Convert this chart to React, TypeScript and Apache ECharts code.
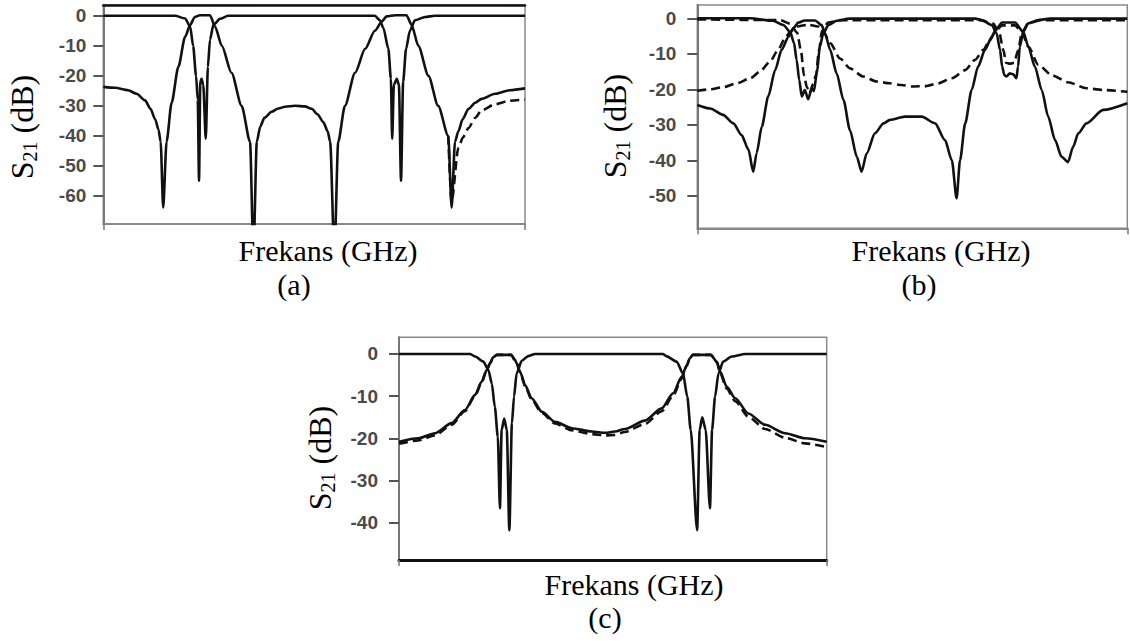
import React, { useEffect, useRef } from "react";
import * as echarts from "echarts";

// ---------- data (x: normalised frequency 0..100, y: S21 in dB) ----------
const A_TICKS = [0, -10, -20, -30, -40, -50, -60];
const B_TICKS = [0, -10, -20, -30, -40, -50];
const C_TICKS = [0, -10, -20, -30, -40];

const A_PASS = [
  [0, -23.7], [2.8, -24], [5.9, -24.8], [7.9, -26], [9.9, -28.2], [11.2, -31], [12.3, -34.5],
  [13.1, -38], [13.6, -42], [14.2, -64], [15.0, -42], [16.2, -29], [17.8, -17], [19.4, -7],
  [20.6, -3], [21.7, -0.4], [22.9, 0.2], [25.3, 0.2], [26.5, -3.6], [28.1, -10], [30.4, -19],
  [32.8, -30], [34.8, -42], [35.6, -80], [36.4, -42], [37.2, -37], [38.2, -34], [39.9, -32],
  [41.5, -30.9], [43.1, -30.3], [45.5, -30], [47.8, -30.2], [49.4, -31], [50.8, -32.8],
  [52.2, -35.5], [53.2, -38.5], [53.8, -42], [54.8, -80], [55.7, -42], [57.3, -30], [59.7, -19],
  [62.1, -11], [64.4, -5], [66.0, -2], [67.2, -0.2], [69.2, 0.2], [71.9, 0.2], [73.1, -3],
  [74.7, -10], [77.1, -20], [79.4, -30], [81.8, -40], [82.6, -64], [83.4, -42], [84.2, -38.5],
  [85.2, -34.5], [86.6, -31], [88.2, -29], [89.7, -27.7], [92.9, -26], [96.4, -24.8], [100, -24.2],
];
const A_PASS_DASHED = [
  [81.8, -40], [82.6, -62], [84.2, -44], [85.3, -40.5], [86.6, -37.4], [88.2, -34], [89.7, -31.5],
  [92.9, -29.5], [96.4, -28.3], [100, -27.9],
];
const A_STOP = [
  [0, 0], [17.0, 0], [19.4, -0.9], [20.6, -3.6], [21.3, -10], [22.0, -20], [22.4, -28],
  [22.7, -55], [23.0, -22], [23.3, -21], [23.7, -23], [24.3, -41], [24.8, -17], [25.3, -8],
  [26.1, -3], [27.7, -1], [29.6, 0], [64.4, 0], [65.6, -1.5], [66.4, -4], [67.6, -11],
  [68.2, -21], [68.5, -41], [68.9, -23], [69.6, -21], [70.1, -23], [70.6, -55], [71.1, -22],
  [71.8, -11], [72.7, -5], [73.9, -1.5], [76.3, -0.4], [78.6, 0], [100, 0],
];

const B_PASS = [
  [0, -24.4], [3.0, -25.4], [6.0, -27.2], [8.4, -29.6], [10.3, -32.9], [11.9, -37], [13.0, -43.2],
  [13.8, -38], [15.0, -30.5], [16.5, -22], [18.1, -14.6], [19.6, -8.9], [21.2, -5.2], [22.3, -2.8],
  [23.5, -1.2], [25.0, -0.6], [27.4, -0.6], [28.9, -1.9], [29.7, -4.2], [30.9, -8.9], [32.4, -15.5],
  [34.0, -23], [35.5, -31.5], [37.1, -39], [38.2, -43.2], [39.4, -38], [41.3, -32.4], [43.3, -29.6],
  [44.8, -28.6], [48.3, -27.7], [52.2, -27.7], [55.3, -29.6], [57.6, -34.3], [59.2, -40],
  [60.3, -50.7], [61.1, -40], [62.3, -29.6], [63.8, -20.2], [65.3, -13.6], [66.9, -8.9],
  [68.5, -5.2], [69.6, -2.8], [70.9, -1.2], [73.9, -1.2], [75.8, -3.8], [77.0, -8], [78.5, -13.6],
  [80.1, -20.2], [81.6, -27.7], [83.2, -34.3], [84.7, -39], [86.2, -40.5], [87.4, -36.2],
  [88.6, -32.4], [90.5, -29.6], [94.4, -25.8], [100, -23.9],
];
const B_PASS_DASHED = [
  [0, -20.4], [3.0, -20], [6.0, -19.4], [9.2, -18.3], [12.3, -16.9], [14.6, -15], [16.9, -12.2],
  [18.8, -8.9], [20.4, -5.6], [21.6, -3.8], [23.2, -2.3], [25.7, -1.8], [28.1, -2.3], [29.3, -3.8],
  [30.9, -7], [33.2, -11.3], [35.5, -14.1], [38.6, -16.4], [41.7, -17.8], [44.8, -18.3],
  [47.5, -18.8], [49.9, -19.2], [53.0, -19.1], [56.0, -18.3], [59.2, -16.9], [62.3, -14.6],
  [64.6, -11.7], [66.5, -8.9], [68.1, -6.1], [69.2, -3.8], [70.9, -2], [73.9, -2], [75.5, -4],
  [77.0, -8], [79.3, -13.1], [82.4, -16], [86.2, -18], [90.5, -19.7], [94.4, -20.2], [100, -20.7],
];
const B_STOP = [
  [0, 0], [12.3, 0], [17.6, -0.7], [20.0, -1.9], [21.6, -3.8], [22.5, -7], [23.1, -11.7],
  [23.7, -17.4], [24.3, -22], [25.0, -20.2], [25.8, -22.8], [26.6, -19.7], [27.1, -20.5],
  [27.8, -15.5], [28.5, -8], [29.3, -4.2], [30.5, -1.9], [32.4, -0.7], [35.5, -0.1], [64.6, -0.1],
  [66.2, -0.5], [68.5, -1.9], [69.6, -4.2], [70.4, -8.9], [70.9, -13.6], [71.4, -16], [71.9, -16.4],
  [72.7, -15.5], [73.5, -15.8], [74.2, -16.9], [74.6, -13.6], [75.0, -8], [75.8, -3.8], [77.0, -1.4],
  [79.3, -0.5], [82.0, -0.1], [100, -0.1],
];
const B_STOP_DASHED = [
  [0, -0.3], [19.2, -0.5], [21.6, -1.5], [23.2, -4], [24.1, -9], [24.8, -16], [25.5, -19.5],
  [26.2, -21], [26.9, -18.5], [27.6, -16], [28.3, -9], [29.0, -3.5], [30.4, -1.2], [33.2, -0.5],
  [65.8, -0.5], [68.8, -1.5], [70.2, -4], [71.2, -9], [71.8, -12.5], [72.7, -12.8], [73.7, -12.5],
  [74.6, -9], [75.5, -4], [76.9, -1.5], [79.7, -0.5], [100, -0.5],
];

const C_PASS = [
  [0, -20.8], [4.5, -20], [8.4, -18.8], [12.3, -16.4], [15.4, -13.3], [17.8, -9.7], [19.3, -6.6],
  [20.5, -3.8], [21.3, -2.2], [22.0, -0.8], [22.9, -0.2], [26.2, -0.2], [27.1, -1.3], [27.5, -2.2],
  [28.3, -4.2], [29.5, -7.4], [31.0, -10.5], [33.4, -13.7], [36.5, -16.1], [40.4, -17.6],
  [45.1, -18.4], [48.2, -18.7], [50.5, -18.4], [52.8, -17.8], [57.5, -15.8], [61.4, -12.9],
  [64.1, -9.3], [66.1, -5.4], [67.3, -2.6], [68.0, -1], [68.7, -0.2], [72.9, -0.2], [74.3, -1.8],
  [75.1, -4.2], [76.6, -7.7], [78.6, -10.5], [81.7, -14.1], [85.6, -16.8], [90.3, -18.8],
  [94.9, -20], [100, -20.8],
];
const C_PASS_DASHED = [
  [0, -21.3], [4.5, -20.5], [8.4, -19.3], [12.3, -16.8], [15.4, -13.6], [17.8, -9.9], [19.3, -6.8],
  [20.5, -3.9], [21.3, -2.2], [22.0, -0.8], [22.9, -0.2], [26.2, -0.2], [27.5, -2.2], [28.3, -4.3],
  [29.5, -7.6], [31.0, -10.8], [33.4, -14], [36.5, -16.5], [40.4, -18.1], [45.1, -19],
  [48.2, -19.3], [50.5, -19.2], [52.8, -18.5], [57.5, -16.6], [61.4, -13.6], [64.1, -9.9],
  [66.1, -5.8], [67.3, -2.8], [68.0, -1], [68.7, -0.2], [72.9, -0.2], [74.3, -1.9], [75.1, -4.5],
  [76.6, -8.2], [78.6, -11.2], [81.7, -14.9], [85.6, -17.8], [90.3, -19.9], [94.9, -21.2],
  [100, -22.1],
];
const C_STOP = [
  [0, 0], [16.6, 0], [17.8, -0.6], [19.7, -1.8], [20.9, -3.8], [21.7, -7], [22.4, -12.5],
  [23.1, -19.6], [23.6, -36.6], [24.0, -18], [24.6, -15.3], [25.2, -18], [25.8, -41.8],
  [26.4, -16.4], [26.9, -10.1], [27.5, -4.6], [28.7, -1.6], [30.2, -0.5], [31.8, 0], [61.7, 0],
  [62.5, -0.5], [64.9, -1.8], [66.4, -4.6], [67.4, -10.1], [68.2, -18], [69.7, -41.8], [70.3, -18],
  [70.9, -15], [71.7, -18], [72.7, -36.6], [73.2, -18], [73.9, -10.1], [74.7, -4.6], [75.8, -1.8],
  [77.8, -0.6], [81.0, 0], [100, 0],
];

const X_TITLE = "Frekans (GHz)";
const PANEL_LABELS = ["(a)", "(b)", "(c)"];

// ---------- styling / layout ----------
const SERIF = "Liberation Serif, Times New Roman, serif";
const SANS = "Liberation Sans, Arial, sans-serif";
const INK = "#111";

const PANELS = [
  {
    grid: { left: 103.3, top: 5, width: 421.7, height: 219 },
    yMin: -69.4, yMax: 3.6, ticks: A_TICKS, margin: 17,
    bottomLine: { color: "#888", width: 2 },
    title: [328, 234.2], subShift: 68, yTitle: [22, 127],
    solid: [A_PASS, A_STOP], dashed: [A_PASS_DASHED],
  },
  {
    grid: { left: 697.3, top: 5, width: 430, height: 223.3 },
    yMin: -59.15, yMax: 3.75, ticks: B_TICKS, margin: 21,
    bottomLine: { color: "#888", width: 2 },
    title: [941, 234.2], subShift: 44, yTitle: [615, 126],
    solid: [B_PASS, B_STOP], dashed: [B_PASS_DASHED, B_STOP_DASHED],
  },
  {
    grid: { left: 399, top: 337.3, width: 427.7, height: 222.7 },
    yMin: -48.87, yMax: 3.96, ticks: C_TICKS, margin: 21,
    bottomLine: { color: INK, width: 3 },
    title: [634, 567.6], subShift: 58, yTitle: [320, 458],
    solid: [C_PASS, C_STOP], dashed: [C_PASS_DASHED],
  },
];

function buildOption() {
  const grid: any[] = [];
  const xAxis: any[] = [];
  const yAxis: any[] = [];
  const series: any[] = [];
  const graphic: any[] = [];

  PANELS.forEach((p, i) => {
    grid.push({ ...p.grid, show: true, borderColor: "#8a8a8a", borderWidth: 1.5, backgroundColor: "#fff" });
    xAxis.push({
      gridIndex: i, type: "value", min: 0, max: 100, position: "bottom",
      axisLine: { show: true, onZero: false, lineStyle: p.bottomLine },
      axisTick: { show: true, customValues: [0, 100], length: 6, lineStyle: { color: "#777", width: 1.5 } },
      axisLabel: { show: false }, splitLine: { show: false },
    });
    yAxis.push({
      gridIndex: i, type: "value", min: p.yMin, max: p.yMax,
      axisLine: { show: true, onZero: false, lineStyle: { color: "#777", width: 2 } },
      axisTick: { show: true, customValues: p.ticks, length: 10, lineStyle: { color: "#555", width: 2 } },
      axisLabel: {
        show: true, customValues: p.ticks, margin: p.margin, fontSize: 19, fontWeight: "bold",
        color: "#4a4a4a", fontFamily: SANS,
      },
      splitLine: { show: false },
    });
    const base = {
      type: "line", xAxisIndex: i, yAxisIndex: i, symbol: "none", silent: true, clip: true,
      smooth: 0.25, smoothMonotone: "x",
    };
    p.solid.forEach((d) => series.push({ ...base, data: d, lineStyle: { color: INK, width: 2.6 } }));
    p.dashed.forEach((d) =>
      series.push({ ...base, data: d, lineStyle: { color: INK, width: 2.6, type: [9, 5] } })
    );
    graphic.push({
      type: "text", x: p.title[0], y: p.title[1],
      style: {
        text: X_TITLE + "\n{p|" + PANEL_LABELS[i] + "}",
        fontSize: 30, fontFamily: SERIF, fill: "#000", lineHeight: 33.5,
        align: "center", verticalAlign: "top",
        rich: {
          p: { fontSize: 30, fontFamily: SERIF, fill: "#000", lineHeight: 33.5, padding: [0, p.subShift, 0, 0] },
        },
      },
    });
    graphic.push({
      type: "text", x: p.yTitle[0], y: p.yTitle[1], rotation: Math.PI / 2,
      style: {
        text: "{s|S}{sub|21}{s| (dB)}", align: "center", verticalAlign: "middle", fill: "#000",
        rich: {
          s: { fontSize: 32, fontFamily: SERIF, lineHeight: 36, fill: "#000" },
          sub: { fontSize: 20, fontFamily: SERIF, lineHeight: 22, verticalAlign: "bottom", fill: "#000" },
        },
      },
    });
  });

  // heavy top border of panel (a)
  xAxis.push({
    gridIndex: 0, type: "value", min: 0, max: 100, position: "top",
    axisLine: { show: true, onZero: false, lineStyle: { color: INK, width: 2.5 } },
    axisTick: { show: false }, axisLabel: { show: false }, splitLine: { show: false },
  });

  return { animation: false, backgroundColor: "#fff", grid, xAxis, yAxis, series, graphic };
}

export default function App() {
  const ref = useRef<HTMLDivElement>(null);
  useEffect(() => {
    if (!ref.current) return;
    const chart = echarts.init(ref.current, undefined, { renderer: "svg" });
    chart.setOption(buildOption());
    return () => chart.dispose();
  }, []);
  return (
    <div
      ref={ref}
      style={{ position: "absolute", left: 0, top: 0, width: 1130, height: 642, background: "#fff" }}
    />
  );
}
